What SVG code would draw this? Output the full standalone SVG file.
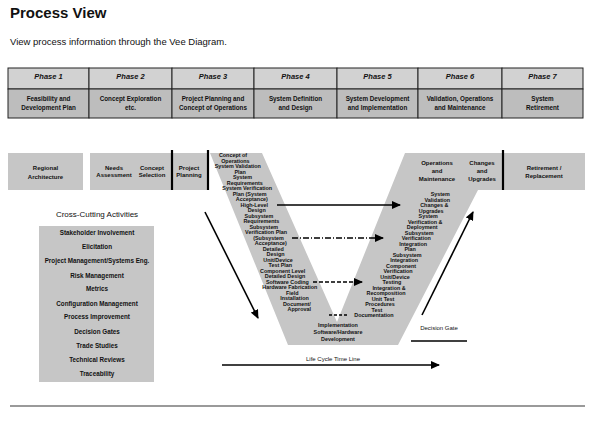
<svg xmlns="http://www.w3.org/2000/svg" width="589" height="427" viewBox="0 0 589 427">
<style>
text{font-family:"Liberation Sans",Arial,sans-serif;fill:#111}
.title{font-size:15px;font-weight:bold}
.sub{font-size:9.5px}
.ph{font-size:7.5px;font-weight:bold;font-style:italic;text-anchor:middle}
.pd{font-size:6.3px;font-weight:bold;text-anchor:middle}
.hbox{fill:#d2d2d2;stroke:#222;stroke-width:1}
.dbox{fill:#bdbdbd;stroke:#222;stroke-width:1}
.gbox{fill:#c6c6c6;stroke:none}
.bx{font-size:6px;font-weight:bold;text-anchor:middle}
.arm{font-size:5.4px;font-weight:bold;text-anchor:middle}
.cc{font-size:6.3px;font-weight:bold;text-anchor:middle}
.cct{font-size:8px;text-anchor:middle}
.sm{font-size:6px;text-anchor:middle}
.conn{stroke:#000;stroke-width:1.6;fill:none}
.div{stroke:#000;stroke-width:2.2}
</style>
<defs>
<marker id="ah" markerUnits="userSpaceOnUse" markerWidth="9" markerHeight="8" refX="8" refY="4" orient="auto">
<path d="M0,0 L9,4 L0,8 z" fill="#000"/>
</marker>
</defs>
<rect width="589" height="427" fill="#fff"/>

<g id="heading">
<text class="title" x="10" y="18">Process View</text>
<text class="sub" x="10" y="45">View process information through the Vee Diagram.</text>
</g>

<g id="phases">
<g id="phase1"><rect class="hbox" x="8" y="68" width="81" height="21"/><rect class="dbox" x="8" y="89" width="81" height="29"/>
<text class="ph" x="48.5" y="79">Phase 1</text><text class="pd" x="48.5" y="101">Feasibility and</text><text class="pd" x="48.5" y="110">Development Plan</text></g>
<g id="phase2"><rect class="hbox" x="89" y="68" width="83" height="21"/><rect class="dbox" x="89" y="89" width="83" height="29"/>
<text class="ph" x="130.5" y="79">Phase 2</text><text class="pd" x="130.5" y="101">Concept Exploration</text><text class="pd" x="130.5" y="110">etc.</text></g>
<g id="phase3"><rect class="hbox" x="172" y="68" width="82" height="21"/><rect class="dbox" x="172" y="89" width="82" height="29"/>
<text class="ph" x="213" y="79">Phase 3</text><text class="pd" x="213" y="101">Project Planning and</text><text class="pd" x="213" y="110">Concept of Operations</text></g>
<g id="phase4"><rect class="hbox" x="254" y="68" width="83" height="21"/><rect class="dbox" x="254" y="89" width="83" height="29"/>
<text class="ph" x="295.5" y="79">Phase 4</text><text class="pd" x="295.5" y="101">System Definition</text><text class="pd" x="295.5" y="110">and Design</text></g>
<g id="phase5"><rect class="hbox" x="337" y="68" width="81" height="21"/><rect class="dbox" x="337" y="89" width="81" height="29"/>
<text class="ph" x="377.5" y="79">Phase 5</text><text class="pd" x="377.5" y="101">System Development</text><text class="pd" x="377.5" y="110">and Implementation</text></g>
<g id="phase6"><rect class="hbox" x="418" y="68" width="84" height="21"/><rect class="dbox" x="418" y="89" width="84" height="29"/>
<text class="ph" x="460" y="79">Phase 6</text><text class="pd" x="460" y="101">Validation, Operations</text><text class="pd" x="460" y="110">and Maintenance</text></g>
<g id="phase7"><rect class="hbox" x="502" y="68" width="81" height="21"/><rect class="dbox" x="502" y="89" width="81" height="29"/>
<text class="ph" x="542.5" y="79">Phase 7</text><text class="pd" x="542.5" y="101">System</text><text class="pd" x="542.5" y="110">Retirement</text></g>
</g>

<g id="regional-architecture">
<rect class="gbox" x="8" y="153" width="75" height="37"/>
<text class="bx" x="45.5" y="170">Regional</text><text class="bx" x="45.5" y="179">Architecture</text>
</g>
<g id="feasibility">
<rect class="gbox" x="90" y="153" width="82" height="37"/>
<text class="bx" x="114" y="170">Needs</text><text class="bx" x="114" y="177">Assessment</text>
<text class="bx" x="152" y="170">Concept</text><text class="bx" x="152" y="177">Selection</text>
</g>
<g id="project-planning">
<rect class="gbox" x="173" y="153" width="34" height="37"/>
<text class="bx" x="189" y="170">Project</text><text class="bx" x="189" y="177">Planning</text>
</g>

<g id="vee">
<polygon fill="#c6c6c6" points="210,153 262,153 337,322 405,153 503,153 503,190 478,190 398,345 288,345"/>
<g id="operations"><text class="bx" x="437" y="165">Operations</text><text class="bx" x="437" y="173">and</text><text class="bx" x="437" y="181">Maintenance</text></g>
<g id="changes"><text class="bx" x="482" y="165">Changes</text><text class="bx" x="482" y="173">and</text><text class="bx" x="482" y="181">Upgrades</text></g>
<g id="left-arm">
<text class="arm" x="233.0" y="157">Concept of</text>
<text class="arm" x="235.4" y="162.5">Operations</text>
<text class="arm" x="237.7" y="168">System Validation</text>
<text class="arm" x="240.1" y="173.5">Plan</text>
<text class="arm" x="242.5" y="179">System</text>
<text class="arm" x="244.8" y="184.5">Requirements</text>
<text class="arm" x="247.2" y="190">System Verification</text>
<text class="arm" x="249.6" y="195.5">Plan (System</text>
<text class="arm" x="251.9" y="201">Acceptance)</text>
<text class="arm" x="254.3" y="206.5">High-Level</text>
<text class="arm" x="256.7" y="212">Design</text>
<text class="arm" x="259.0" y="217.5">Subsystem</text>
<text class="arm" x="261.4" y="223">Requirements</text>
<text class="arm" x="263.8" y="228.5">Subsystem</text>
<text class="arm" x="266.1" y="234">Verification Plan</text>
<text class="arm" x="268.5" y="239.5">(Subsystem</text>
<text class="arm" x="270.9" y="245">Acceptance)</text>
<text class="arm" x="273.2" y="250.5">Detailed</text>
<text class="arm" x="275.6" y="256">Design</text>
<text class="arm" x="278.0" y="261.5">Unit/Device</text>
<text class="arm" x="280.3" y="267">Test Plan</text>
<text class="arm" x="282.7" y="272.5">Component Level</text>
<text class="arm" x="285.1" y="278">Detailed Design</text>
<text class="arm" x="287.4" y="283.5">Software Coding</text>
<text class="arm" x="289.8" y="289">Hardware Fabrication</text>
<text class="arm" x="292.2" y="294.5">Field</text>
<text class="arm" x="294.5" y="300">Installation</text>
<text class="arm" x="296.9" y="305.5">Document/</text>
<text class="arm" x="299.3" y="311">Approval</text>
</g>
<g id="right-arm">
<text class="arm" x="440.3" y="196">System</text>
<text class="arm" x="437.3" y="201.5">Validation</text>
<text class="arm" x="434.3" y="207">Changes &amp;</text>
<text class="arm" x="431.2" y="212.5">Upgrades</text>
<text class="arm" x="428.2" y="218">System</text>
<text class="arm" x="425.2" y="223.5">Verification &amp;</text>
<text class="arm" x="422.2" y="229">Deployment</text>
<text class="arm" x="419.2" y="234.5">Subsystem</text>
<text class="arm" x="416.2" y="240">Verification</text>
<text class="arm" x="413.1" y="245.5">Integration</text>
<text class="arm" x="410.1" y="251">Plan</text>
<text class="arm" x="407.1" y="256.5">Subsystem</text>
<text class="arm" x="404.1" y="262">Integration</text>
<text class="arm" x="401.1" y="267.5">Component</text>
<text class="arm" x="398.1" y="273">Verification</text>
<text class="arm" x="395.0" y="278.5">Unit/Device</text>
<text class="arm" x="392.0" y="284">Testing</text>
<text class="arm" x="389.0" y="289.5">Integration &amp;</text>
<text class="arm" x="386.0" y="295">Recomposition</text>
<text class="arm" x="383.0" y="300.5">Unit Test</text>
<text class="arm" x="380.0" y="306">Procedures</text>
<text class="arm" x="376.9" y="311.5">Test</text>
<text class="arm" x="373.9" y="317">Documentation</text>
</g>
<g id="vee-bottom">
<text class="arm" x="338" y="327">Implementation</text>
<text class="arm" x="338" y="334">Software/Hardware</text>
<text class="arm" x="338" y="341">Development</text>
</g>
</g>

<g id="retirement">
<rect class="gbox" x="503" y="153" width="82" height="37"/>
<text class="bx" x="544" y="170">Retirement /</text><text class="bx" x="544" y="178">Replacement</text>
</g>

<g id="dividers">
<line class="div" x1="172" y1="150" x2="172" y2="190"/>
<line class="div" x1="208" y1="150" x2="208" y2="190"/>
<line class="div" x1="503" y1="150" x2="503" y2="190"/>
</g>

<g id="cross-cutting">
<text class="cct" x="97" y="217">Cross-Cutting Activities</text>
<rect class="gbox" x="39" y="226" width="115" height="156"/>
<text class="cc" x="97" y="235">Stakeholder Involvement</text>
<text class="cc" x="97" y="249">Elicitation</text>
<text class="cc" x="97" y="263">Project Management/Systems Eng.</text>
<text class="cc" x="97" y="278">Risk Management</text>
<text class="cc" x="97" y="291">Metrics</text>
<text class="cc" x="97" y="306">Configuration Management</text>
<text class="cc" x="97" y="319">Process Improvement</text>
<text class="cc" x="97" y="334">Decision Gates</text>
<text class="cc" x="97" y="348">Trade Studies</text>
<text class="cc" x="97" y="362">Technical Reviews</text>
<text class="cc" x="97" y="376">Traceability</text>
</g>

<g id="connectors">
<line class="conn" x1="277" y1="205" x2="400" y2="205" marker-end="url(#ah)"/>
<line class="conn" x1="292" y1="238" x2="383" y2="238" stroke-dasharray="6,2,1,2" marker-end="url(#ah)"/>
<line class="conn" x1="313" y1="282" x2="362" y2="282" stroke-dasharray="4,2" marker-end="url(#ah)"/>
<line class="conn" x1="329" y1="315" x2="348" y2="315" stroke-dasharray="3,2"/>
<line class="conn" x1="205" y1="212" x2="258" y2="318" marker-end="url(#ah)"/>
<line class="conn" x1="422" y1="315" x2="473" y2="212" marker-end="url(#ah)"/>
<line class="conn" x1="222" y1="365" x2="439" y2="365" marker-end="url(#ah)"/>
</g>

<g id="timeline-label"><text class="sm" x="333" y="361">Life Cycle Time Line</text></g>
<g id="decision-gate-legend">
<text class="sm" x="439" y="330">Decision Gate</text>
<line x1="411" y1="341" x2="467" y2="341" stroke="#000" stroke-width="1.5"/>
</g>
<line x1="10" y1="406" x2="585" y2="406" stroke="#9a9a9a" stroke-width="2"/>
</svg>
